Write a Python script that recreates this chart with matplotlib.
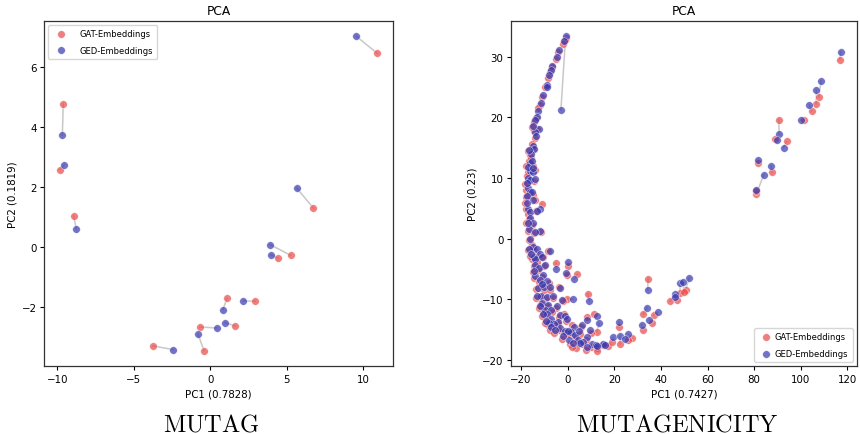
import numpy as np
import matplotlib
matplotlib.use("Agg")
import matplotlib.pyplot as plt

plt.rcParams["mathtext.fontset"] = "cm"

# ---- MUTAG: PCA projections (PC1, PC2), one row per graph ----
mutag_gat = [
    (10.9, 6.47), (-9.61, 4.78), (-9.82, 2.59), (6.73, 1.31), (-8.93, 1.05),
    (5.25, -0.27), (4.43, -0.36), (1.09, -1.70), (2.94, -1.80), (-0.69, -2.66),
    (1.63, -2.62), (-0.41, -3.45), (-3.77, -3.29),
]
mutag_ged = [
    (9.52, 7.04), (-9.67, 3.73), (-9.54, 2.75), (5.65, 1.97), (-8.76, 0.61),
    (3.90, 0.09), (3.95, -0.25), (0.83, -2.08), (2.16, -1.79), (0.42, -2.69),
    (0.96, -2.52), (-0.80, -2.90), (-2.44, -3.41),
]
mutag_var = (0.7828, 0.1819)

# ---- MUTAGENICITY: PCA projections (PC1, PC2), one row per graph ----
mutagen_gat = [
    (-0.9, 33.1), (-1.3, 32.8), (-1.9, 32.0), (-4.0, 30.7), (-4.9, 29.6),
    (-6.9, 28.2), (-7.6, 27.4), (-8.5, 26.5), (-9.3, 25.1), (-9.6, 25.0),
    (-11.0, 23.3), (-11.8, 22.0), (-12.9, 21.6), (-13.5, 19.9), (-14.3, 19.2),
    (-13.0, 18.0), (-14.4, 17.8), (-13.8, 16.5), (-15.5, 15.6), (-14.8, 14.8),
    (-16.3, 13.8), (-16.5, 12.7), (-15.9, 13.2), (-16.9, 11.0), (-14.2, 11.3),
    (-17.5, 10.3), (-16.8, 9.3), (-14.5, 9.5), (-17.9, 8.0), (-16.5, 7.2),
    (-15.0, 7.2), (-17.7, 6.8), (-14.2, 6.3), (-17.9, 4.8), (-16.8, 4.1),
    (-11.0, 5.7), (-13.5, 4.5), (-16.7, 3.2), (-15.5, 2.3), (-17.0, 1.2),
    (-11.5, 1.0), (-14.5, 0.9), (-16.5, -0.3), (-15.3, -1.0), (-17.0, -1.9),
    (-13.8, -2.0), (-8.5, -2.0), (-12.2, -2.8), (-15.2, -3.3), (-13.3, -3.8),
    (-10.5, -3.1), (-14.4, -4.6), (-12.8, -5.2), (-4.9, -4.1), (0.0, -4.6),
    (-0.4, -6.0), (4.1, -5.9), (-14.4, -6.5), (-10.8, -6.3), (-12.5, -7.2),
    (-8.2, -7.3), (-13.5, -8.3), (-10.0, -8.5), (-7.5, -8.4), (-3.8, -8.0),
    (-11.8, -9.7), (-9.2, -9.8), (-6.5, -9.8), (-0.4, -10.0), (-2.0, -10.3),
    (8.6, -9.1), (-11.5, -10.8), (-8.8, -11.2), (-5.0, -11.4), (-10.2, -12.0),
    (-6.6, -12.1), (-9.5, -12.8), (-3.6, -12.9), (-1.5, -12.5), (-7.8, -13.6),
    (-0.6, -13.6), (-4.3, -14.1), (-6.3, -14.4), (-8.5, -14.3), (2.0, -14.2),
    (5.7, -14.5), (8.5, -13.0), (11.2, -12.5), (12.5, -15.4), (-3.8, -15.0),
    (-1.5, -15.6), (0.8, -15.8), (3.0, -16.3), (5.5, -15.7), (8.0, -16.7),
    (10.0, -15.5), (3.6, -17.1), (1.0, -17.3), (6.2, -17.4), (10.2, -17.9),
    (12.5, -18.1), (3.4, -18.1), (8.0, -18.3), (15.3, -17.6), (17.4, -17.7),
    (19.0, -17.0), (22.4, -17.4), (22.0, -14.5), (27.7, -16.4), (26.0, -16.8),
    (32.4, -15.0), (36.3, -13.9), (32.4, -12.5), (37.0, -12.6), (34.5, -6.6),
    (44.1, -10.3), (47.0, -10.1), (48.3, -9.0), (50.6, -8.4), (49.8, -8.8),
    (-7.6, -15.0), (-0.4, -15.7), (12.4, -18.5),
    (-18.3, 9.0), (-18.0, 12.0), (-17.2, 14.5), (-18.2, 5.8), (-17.8, 2.5),
    (-16.0, -2.8), (-15.0, -5.5), (-13.5, -9.8), (-12.2, -11.5), (-11.2, -12.8),
    (-9.8, -14.0), (-6.0, -15.5), (-2.5, -16.5), (2.0, -17.8), (-14.7, 12.0),
    (-15.3, 18.4), (-10.0, -4.5), (-11.5, -7.8),
    (116.7, 29.5), (107.7, 23.4), (106.6, 22.2), (104.6, 21.0), (101.2, 19.5),
    (90.6, 19.6), (89.0, 16.4), (94.0, 16.0), (81.7, 12.4), (87.7, 10.9),
    (81.0, 7.4), (80.8, 7.8),
]
mutagen_ged = [
    (-2.9, 21.2), (-0.9, 33.4), (-1.6, 32.5), (-3.6, 31.0), (-4.5, 29.9),
    (-6.6, 28.5), (-7.3, 27.7), (-8.0, 26.9), (-9.0, 25.3), (-8.7, 25.0),
    (-10.7, 23.6), (-11.3, 22.4), (-12.6, 21.1), (-13.0, 20.0), (-13.8, 19.5),
    (-12.5, 18.1), (-13.9, 17.5), (-13.5, 16.9), (-14.8, 15.3), (-14.3, 14.8),
    (-15.8, 14.0), (-16.0, 12.5), (-15.2, 12.8), (-16.3, 11.2), (-14.8, 10.9),
    (-16.8, 10.0), (-16.1, 9.6), (-14.2, 9.8), (-17.0, 8.3), (-16.0, 7.6),
    (-15.3, 7.6), (-17.3, 7.0), (-14.7, 6.4), (-17.2, 4.9), (-16.3, 4.3),
    (-12.0, 4.9), (-13.0, 4.6), (-16.1, 3.4), (-15.0, 2.5), (-16.5, 1.5),
    (-12.0, 1.2), (-14.0, 1.0), (-16.0, -0.1), (-15.0, -1.4), (-16.5, -1.8),
    (-13.2, -1.8), (-7.4, -2.0), (-11.8, -2.6), (-14.6, -3.0), (-13.8, -3.4),
    (-10.9, -3.0), (-14.0, -4.3), (-12.4, -4.9), (-4.9, -5.1), (0.0, -3.8),
    (-0.7, -5.6), (2.7, -6.7), (-13.8, -6.2), (-10.4, -6.0), (-12.0, -6.9),
    (-8.8, -7.0), (-12.8, -8.1), (-10.3, -8.0), (-7.5, -8.0), (-3.3, -8.2),
    (-11.3, -9.4), (-9.0, -9.6), (-6.2, -9.5), (2.4, -10.0), (-2.6, -10.2),
    (9.3, -10.3), (-11.0, -10.6), (-8.3, -10.9), (-4.7, -11.1), (-9.8, -11.7),
    (-7.0, -11.8), (-9.0, -12.5), (-3.3, -12.6), (-1.0, -12.7), (-7.3, -13.2),
    (-0.3, -13.3), (-4.0, -13.8), (-5.8, -14.1), (-8.0, -13.9), (2.6, -14.5),
    (6.0, -14.2), (8.1, -13.5), (12.4, -12.7), (13.5, -14.0), (-3.4, -14.8),
    (-1.2, -15.2), (1.5, -15.4), (3.3, -15.9), (5.0, -15.3), (8.3, -16.3),
    (9.6, -15.1), (4.3, -16.7), (0.5, -16.8), (6.6, -17.0), (10.6, -17.4),
    (12.2, -17.6), (5.5, -17.2), (8.5, -17.8), (15.3, -17.3), (16.0, -17.6),
    (19.5, -16.3), (22.4, -16.0), (22.0, -13.8), (26.0, -15.7), (24.5, -16.5),
    (31.7, -14.2), (35.0, -13.4), (34.0, -11.4), (38.6, -12.1), (34.3, -8.5),
    (46.0, -9.2), (46.0, -9.6), (48.1, -7.3), (52.1, -6.5), (49.5, -7.1),
    (-7.0, -14.6), (0.2, -15.2), (12.4, -17.7),
    (-17.6, 9.2), (-17.2, 11.8), (-16.5, 14.6), (-17.6, 5.9), (-17.2, 2.6),
    (-15.6, -2.5), (-14.5, -5.3), (-13.0, -9.5), (-11.8, -11.2), (-10.7, -12.5),
    (-9.4, -13.6), (-5.5, -15.0), (-2.0, -16.0), (2.5, -17.2), (-15.0, 11.7),
    (-14.8, 18.5), (-9.6, -4.3), (-11.0, -7.5),
    (117.1, 30.8), (108.7, 26.0), (106.7, 24.5), (103.7, 22.0), (100.1, 19.5),
    (90.7, 17.2), (89.8, 16.2), (92.6, 15.0), (81.7, 13.0), (87.3, 12.0),
    (84.1, 10.5), (80.6, 8.0),
]
mutagen_var = (0.7427, 0.23)

series_labels = ["GAT-Embeddings", "GED-Embeddings"]
captions = ["MUTAG", "MUTAGENICITY"]

GAT_COLOR = "#E94949"
GED_COLOR = "#3737B0"


def draw_panel(ax, gat, ged, var, legend_kw):
    gat = np.asarray(gat)
    ged = np.asarray(ged)
    # grey connectors between the two embeddings of the same graph
    for (x0, y0), (x1, y1) in zip(gat, ged):
        ax.plot([x0, x1], [y0, y1], color="#c8c8c8", lw=1.1, zorder=1)
    ax.scatter(gat[:, 0], gat[:, 1], s=30, c=GAT_COLOR, alpha=0.7,
               edgecolors="white", linewidths=0.4, label=series_labels[0], zorder=2)
    ax.scatter(ged[:, 0], ged[:, 1], s=30, c=GED_COLOR, alpha=0.7,
               edgecolors="white", linewidths=0.4, label=series_labels[1], zorder=3)
    ax.set_title("PCA", fontsize=8.8, pad=5)
    ax.set_xlabel(f"PC1 ({var[0]})", fontsize=7.4, labelpad=3)
    ax.set_ylabel(f"PC2 ({var[1]})", fontsize=7.4, labelpad=3)
    ax.tick_params(labelsize=7.4, length=3, width=0.8, pad=2.5)
    for sp in ax.spines.values():
        sp.set_linewidth(0.9)
        sp.set_color("#333333")
    ax.legend(fontsize=6, framealpha=0.8, labelspacing=0.9, borderpad=0.5,
              **legend_kw)


fig = plt.figure(figsize=(8.6, 4.35), dpi=100)
ax1 = fig.add_axes([0.0515, 0.1556, 0.4051, 0.7944])
ax2 = fig.add_axes([0.5942, 0.1556, 0.4020, 0.7944])

draw_panel(ax1, mutag_gat, mutag_ged, mutag_var,
           dict(loc="upper left", handlelength=2.0, handletextpad=1.25))
ax1.set_xlim(-10.85, 11.92)
ax1.set_ylim(-3.97, 7.55)
ax1.set_xticks([-10, -5, 0, 5, 10])
ax1.set_yticks([-2, 0, 2, 4, 6])

draw_panel(ax2, mutagen_gat, mutagen_ged, mutagen_var,
           dict(loc="lower right", handlelength=1.8, handletextpad=0.2))
ax2.set_xlim(-24.3, 124.0)
ax2.set_ylim(-21.06, 35.9)
ax2.set_xticks([-20, 0, 20, 40, 60, 80, 100, 120])
ax2.set_yticks([-20, -10, 0, 10, 20, 30])

fig.text(211 / 860, 0.009, r"$\mathrm{%s}$" % captions[0], ha="center",
         va="baseline", fontsize=17.5)
fig.text(677 / 860, 0.009, r"$\mathrm{%s}$" % captions[1], ha="center",
         va="baseline", fontsize=17.5)

fig.savefig("out.png", dpi=100)
